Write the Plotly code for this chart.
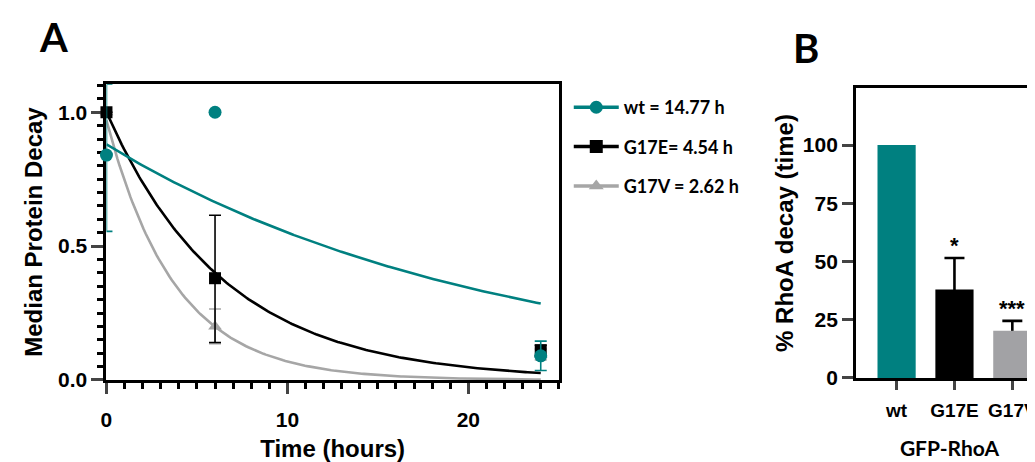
import numpy as np
import plotly.graph_objects as go

# ---------------- Panel A data ----------------
time_h = [0, 6, 24]
wt_y = [0.84, 1.00, 0.09]
wt_err_plus = [0.265, 0.0, 0.055]
wt_err_minus = [0.285, 0.0, 0.055]
g17e_y = [1.00, 0.38, 0.11]
g17e_err_plus = [0.0, 0.235, 0.02]
g17e_err_minus = [0.0, 0.24, 0.02]
g17v_y = [1.00, 0.20, 0.095]
g17v_err_plus = [0.0, 0.065, 0.02]
g17v_err_minus = [0.0, 0.065, 0.02]

# one-phase decay fits: half-lives (legend) and fitted starting values
series_names = ["wt", "G17E", "G17V"]
half_lives = [14.77, 4.54, 2.62]
fit_start = [0.88, 1.00, 0.97]
fit_end_time = 24
legend_labels = ["wt = 14.77 h", "G17E= 4.54 h", "G17V = 2.62 h"]

# ---------------- Panel B data ----------------
mutants = ["wt", "G17E", "G17V"]
decay_pct = [100, 38, 20.3]
decay_err = [0, 13.5, 4.2]
significance = ["", "*", "***"]

TEAL = "#008080"
BLACK = "#000000"
GRAY = "#a6a6a6"
GRAY_BAR = "#a2a2a5"
colors = [TEAL, BLACK, GRAY]
symbols = ["circle", "square", "triangle-up"]

AXFONT = "Liberation Sans"
LBLFONT = "Lato"

fig = go.Figure()

# fitted curves (drawn first, underneath)
t_fit = np.linspace(0, fit_end_time, 200)
for i in [2, 1, 0]:
    k = np.log(2) / half_lives[i]
    fig.add_trace(go.Scatter(
        x=t_fit, y=fit_start[i] * np.exp(-k * t_fit), mode="lines",
        line=dict(color=colors[i], width=2.6), showlegend=False,
        hoverinfo="skip", xaxis="x", yaxis="y"))

# data points with error bars
pts = [
    (wt_y, wt_err_plus, wt_err_minus),
    (g17e_y, g17e_err_plus, g17e_err_minus),
    (g17v_y, g17v_err_plus, g17v_err_minus),
]
for i in [2, 1, 0]:
    y, ep, em = pts[i]
    fig.add_trace(go.Scatter(
        x=time_h, y=y, mode="markers",
        marker=dict(symbol=symbols[i], color=colors[i], size=13 if i == 0 else 12,
                    line=dict(width=0)),
        error_y=dict(type="data", symmetric=False, array=ep, arrayminus=em,
                     color=colors[i], thickness=1.6, width=6),
        cliponaxis=False, showlegend=False, xaxis="x", yaxis="y"))

# legend entries
for i in range(3):
    fig.add_trace(go.Scatter(
        x=[None], y=[None], mode="lines+markers", name=legend_labels[i],
        legendgroup=series_names[i],
        line=dict(color=colors[i], width=3.5),
        marker=dict(symbol=symbols[i], color=colors[i], size=13),
        xaxis="x", yaxis="y"))

# Panel B: error bars on base subplot, bars on overlay subplot (cover lower halves)
with_err = [j for j, e in enumerate(decay_err) if e > 0]
fig.add_trace(go.Scatter(
    x=[mutants[j] for j in with_err], y=[decay_pct[j] for j in with_err],
    mode="markers", marker=dict(size=1, opacity=0),
    error_y=dict(type="data", array=[decay_err[j] for j in with_err],
                 color=BLACK, thickness=2.6, width=10),
    showlegend=False, xaxis="x2", yaxis="y2", hoverinfo="skip"))
fig.add_trace(go.Bar(
    x=mutants, y=decay_pct, marker=dict(color=[TEAL, BLACK, GRAY_BAR], line=dict(width=0)),
    width=0.66, showlegend=False, xaxis="x3", yaxis="y3"))

for m, v, e, s in zip(mutants, decay_pct, decay_err, significance):
    if s:
        fig.add_annotation(x=m, y=v + e, xref="x2", yref="y2", text=s,
                           showarrow=False, yanchor="bottom", yshift=-2,
                           font=dict(family=AXFONT, size=22, color="black", weight="bold"))

tick_font = dict(family=AXFONT, size=21, color="black", weight="bold")
title_font = dict(family=AXFONT, size=24, color="black", weight="bold")
b_xrange = [-0.70, 2.53]

fig.update_layout(
    width=1035, height=462, margin=dict(l=0, r=0, t=0, b=0),
    paper_bgcolor="white", plot_bgcolor="white",
    xaxis=dict(domain=[93 / 1035, 548 / 1035], range=[0, 25], anchor="y",
               tickvals=[0, 10, 20], ticks="outside", ticklen=11, tickwidth=3,
               minor=dict(dtick=1, tick0=0, ticks="outside", ticklen=6, tickwidth=2.5, tickcolor="black"),
               showline=True, linewidth=3, linecolor="black", mirror=True,
               showgrid=False, zeroline=False, tickfont=tick_font, layer="below traces",
               ticklabelstandoff=8,
               title=dict(text="Time (hours)", font=title_font, standoff=11)),
    yaxis=dict(domain=[(462 - 381) / 462, (462 - 78) / 462], range=[0, 1.105], anchor="x",
               tickvals=[0, 0.5, 1.0], tickformat=".1f", ticks="outside", ticklen=12, tickwidth=3,
               minor=dict(dtick=0.05, tick0=0, ticks="outside", ticklen=6, tickwidth=2.5, tickcolor="black"),
               showline=True, linewidth=3, linecolor="black", mirror=True,
               showgrid=False, zeroline=False, tickfont=tick_font, layer="below traces",
               title=dict(text="Median Protein Decay", font=title_font, standoff=9)),
    xaxis2=dict(domain=[847 / 1035, 1.0], range=b_xrange, type="category", anchor="y2",
                categoryorder="array", categoryarray=mutants,
                ticks="outside", ticklen=9, tickwidth=3,
                showline=True, linewidth=3, linecolor="black", mirror=True,
                showgrid=False, zeroline=False, ticklabelstandoff=4,
                tickfont=dict(family=AXFONT, size=19, color="black", weight="bold"),
                title=dict(text="GFP-RhoA", font=dict(family=LBLFONT, size=21, color="black", weight="bold"),
                           standoff=22)),
    yaxis2=dict(domain=[(462 - 379) / 462, (462 - 82) / 462], range=[0, 124.5], anchor="x2",
                tickvals=[0, 25, 50, 75, 100], ticks="outside", ticklen=11, tickwidth=3,
                showline=True, linewidth=3, linecolor="black", mirror=False,
                showgrid=False, zeroline=False, tickfont=tick_font,
                title=dict(text="% RhoA decay (time)", font=title_font, standoff=3)),
    xaxis3=dict(overlaying="x2", range=b_xrange, type="category", anchor="y3",
                categoryorder="array", categoryarray=mutants, visible=False),
    yaxis3=dict(overlaying="y2", range=[0, 124.5], anchor="x3", visible=False),
    legend=dict(x=558 / 1035, y=1 - 83 / 462, xanchor="left", yanchor="top",
                font=dict(family=LBLFONT, size=18, color="black", weight="bold"),
                itemwidth=45, tracegroupgap=13, traceorder="grouped",
                bgcolor="rgba(0,0,0,0)"),
)

fig.add_annotation(x=40 / 1035, y=1 - 30 / 462, xref="paper", yref="paper", text="A",
                   xanchor="center", yanchor="middle",
                   showarrow=False, font=dict(family=LBLFONT, size=40, color="black", weight="bold"))
fig.add_annotation(x=797 / 1035, y=1 - 41 / 462, xref="paper", yref="paper", text="B",
                   xanchor="center", yanchor="middle",
                   showarrow=False, font=dict(family=LBLFONT, size=40, color="black", weight="bold"))

fig.write_html("out.html")
